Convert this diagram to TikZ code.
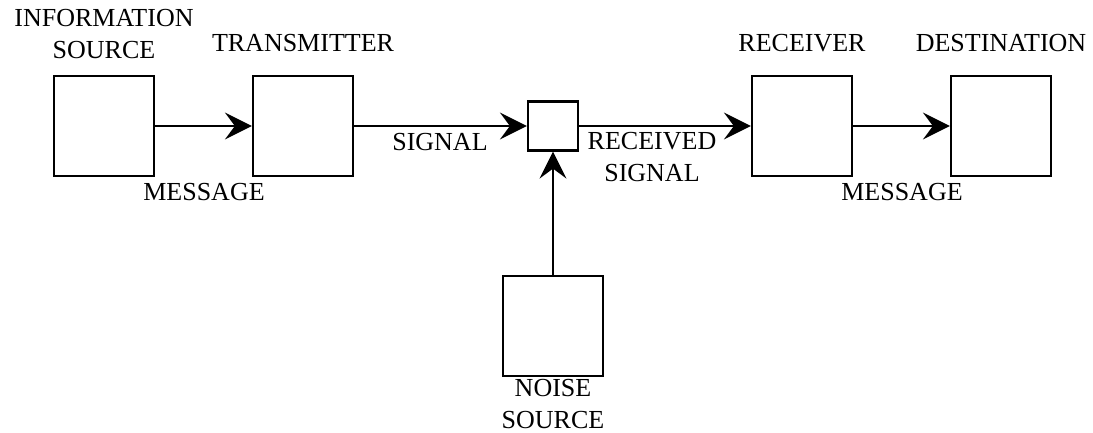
\documentclass[tikz,border=0pt]{standalone}
\usepackage{fontspec}
\setmainfont{Liberation Serif}
\usetikzlibrary{arrows.meta}
\begin{document}
\begin{tikzpicture}[x=1pt,y=-1pt,
  blk/.style={draw,line width=2.2pt,minimum width=100pt,minimum height=100pt,inner sep=0pt},
  sblk/.style={draw,line width=2.2pt,minimum width=50pt,minimum height=49pt,inner sep=0pt},
  lbl/.style={font=\fontsize{26}{32.5}\selectfont,align=center,inner sep=0pt},
  conn/.style={line width=2.2pt,-{Stealth[length=27pt,width=27pt,inset=10pt]}}]
\useasboundingbox (0,0) rectangle (1093,433);
\node[blk] (src) at (104,126) {};
\node[blk] (tx) at (303,126) {};
\node[sblk] (mix) at (553,126) {};
\node[blk] (rx) at (802,126) {};
\node[blk] (dst) at (1001,126) {};
\node[blk] (noise) at (553,326) {};
\node[lbl] (lsrc) at (104,34) {INFORMATION\\SOURCE};
\node[lbl] (ltx) at (303,43) {TRANSMITTER};
\node[lbl] (lrx) at (802,43) {RECEIVER};
\node[lbl] (ldst) at (1001,43) {DESTINATION};
\node[lbl] (lmsg1) at (204,192) {MESSAGE};
\node[lbl] (lsig) at (440,142) {SIGNAL};
\node[lbl] (lrsig) at (652,157) {RECEIVED\\SIGNAL};
\node[lbl] (lmsg2) at (902,192) {MESSAGE};
\node[lbl] (lnoise) at (553,404) {NOISE\\SOURCE};
\draw[conn] (src) -- (tx);
\draw[conn] (tx) -- (mix);
\draw[conn] (mix) -- (rx);
\draw[conn] (rx) -- (dst);
\draw[conn] (noise) -- (mix);
\end{tikzpicture}
\end{document}
